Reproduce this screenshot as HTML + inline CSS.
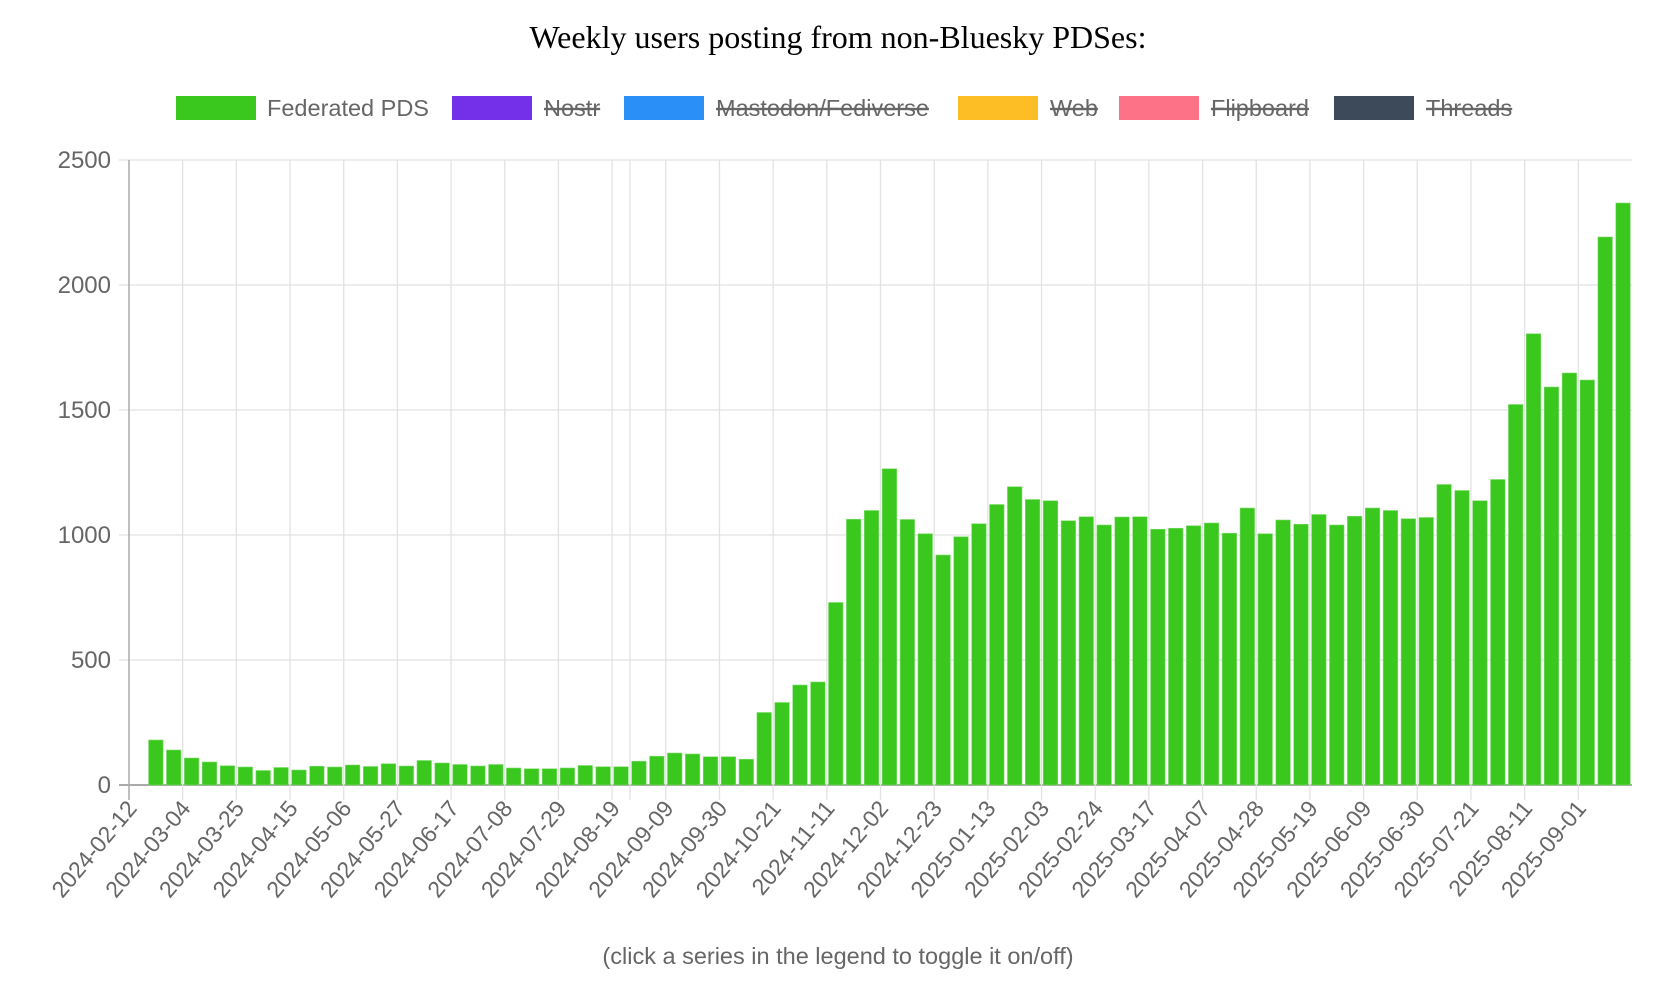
<!DOCTYPE html>
<html><head><meta charset="utf-8"><style>
html,body{margin:0;padding:0;background:#fff;}
svg{display:block;}
text{font-family:"Liberation Sans",Arial,sans-serif;}
</style></head><body>
<svg id="s" width="1676" height="998" xmlns="http://www.w3.org/2000/svg">
<text x="838" y="48" text-anchor="middle" style="font-family:'Liberation Serif',serif" font-size="32" fill="#000">Weekly users posting from non-Bluesky PDSes:</text>
<g font-size="23.5" fill="#666">
<rect x="176" y="96" width="80" height="24" fill="#3ac81e"/><text x="267" y="116">Federated PDS</text>
<rect x="452" y="96" width="80" height="24" fill="#7330e8"/><text x="544" y="116" text-decoration="line-through">Nostr</text>
<rect x="624" y="96" width="80" height="24" fill="#2a90f8"/><text x="716" y="116" text-decoration="line-through">Mastodon/Fediverse</text>
<rect x="958" y="96" width="80" height="24" fill="#fdbd24"/><text x="1050" y="116" text-decoration="line-through">Web</text>
<rect x="1119" y="96" width="80" height="24" fill="#fd7287"/><text x="1211" y="116" text-decoration="line-through">Flipboard</text>
<rect x="1334" y="96" width="80" height="24" fill="#3d4a5a"/><text x="1426" y="116" text-decoration="line-through">Threads</text>
</g>
<g id="g"></g>
<text x="838" y="964" text-anchor="middle" font-size="23.5" fill="#666">(click a series in the legend to toggle it on/off)</text>
</svg>
<script>
var v=[0,180,140,108,92,77,72,58,70,60,75,72,80,74,85,76,98,88,82,76,82,68,65,65,68,78,73,73,95,115,128,124,113,113,103,290,330,400,412,730,1063,1098,1265,1062,1005,920,993,1045,1122,1193,1142,1137,1057,1073,1040,1072,1073,1023,1027,1037,1048,1007,1108,1005,1060,1043,1082,1040,1075,1108,1098,1065,1070,1202,1178,1137,1222,1522,1805,1592,1648,1620,2192,2328];
var labels=["2024-02-12","2024-03-04","2024-03-25","2024-04-15","2024-05-06","2024-05-27","2024-06-17","2024-07-08","2024-07-29","2024-08-19","2024-09-09","2024-09-30","2024-10-21","2024-11-11","2024-12-02","2024-12-23","2025-01-13","2025-02-03","2025-02-24","2025-03-17","2025-04-07","2025-04-28","2025-05-19","2025-06-09","2025-06-30","2025-07-21","2025-08-11","2025-09-01"];
var x0=129,x1=1632,y0=785,yt=160,n=84,st=(x1-x0)/n,h='';
function Y(val){return y0-(y0-yt)*val/2500;}
for(var i=0;i<=5;i++){var y=Y(i*500);h+='<line x1="'+(x0-10)+'" x2="'+x1+'" y1="'+y+'" y2="'+y+'" stroke="'+(i==0?'#aaa':'#e2e2e2')+'" stroke-width="'+(i==0?2:1.3)+'"/>';
h+='<text x="'+(x0-18)+'" y="'+(y+8)+'" text-anchor="end" font-size="24" fill="#666">'+(i*500)+'</text>';}
for(var k=0;k<labels.length;k++){var x=x0+k*3*st;
h+='<line x1="'+x+'" x2="'+x+'" y1="'+yt+'" y2="'+(y0+15)+'" stroke="'+(k==0?'#aaa':'#e2e2e2')+'" stroke-width="'+(k==0?1.5:1.3)+'"/>';
h+='<text transform="translate('+(x+9)+','+(y0+24)+') rotate(-50)" text-anchor="end" font-size="23" fill="#666">'+labels[k]+'</text>';}
var xe=x0+28*st;h+='<line x1="'+xe+'" x2="'+xe+'" y1="'+yt+'" y2="'+(y0+15)+'" stroke="#e2e2e2" stroke-width="1.3"/>';
for(var i=0;i<n;i++){if(!v[i])continue;var bw=14.5,cx=x0+(i+0.5)*st,y=Y(v[i]);
h+='<rect x="'+(cx-bw/2)+'" y="'+y+'" width="'+bw+'" height="'+(y0-y)+'" fill="#3ac81e" stroke="#7ddc6a" stroke-width="0.6"/>';}
document.getElementById('g').innerHTML=h;
</script>
</body></html>
